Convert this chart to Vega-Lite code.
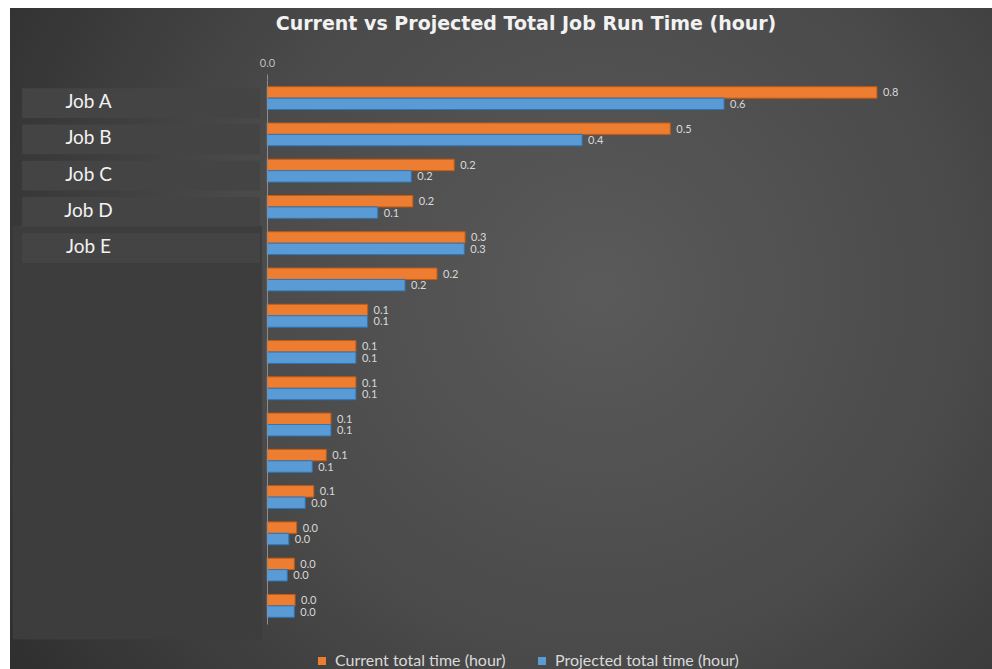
{
  "$schema": "https://vega.github.io/schema/vega-lite/v6.json",
  "width": 982,
  "height": 661,
  "autosize": {"type": "none"},
  "padding": {"left": 10, "top": 8, "right": 0, "bottom": 0},
  "background": "white",
  "config": {
    "view": {
      "stroke": null,
      "fill": {
        "gradient": "radial",
        "x1": 0.6, "y1": 0.45, "r1": 0,
        "x2": 0.6, "y2": 0.45, "r2": 0.75,
        "stops": [
          {"offset": 0, "color": "#5a5a5a"},
          {"offset": 0.5, "color": "#4a4a4a"},
          {"offset": 1, "color": "#2c2c2c"}
        ]
      }
    },
    "font": "Lato"
  },
  "title": {
    "text": "Current vs Projected Total Job Run Time (hour)",
    "font": "DejaVu Sans",
    "fontSize": 19,
    "fontWeight": "bold",
    "color": "#f2f2f2",
    "anchor": "middle",
    "dx": 25,
    "offset": -26
  },
  "data": {
    "values": [
      {"job": "Job A", "series": "Current total time (hour)", "value": 0.782},
      {"job": "Job A", "series": "Projected total time (hour)", "value": 0.586},
      {"job": "Job B", "series": "Current total time (hour)", "value": 0.517},
      {"job": "Job B", "series": "Projected total time (hour)", "value": 0.404},
      {"job": "Job C", "series": "Current total time (hour)", "value": 0.240},
      {"job": "Job C", "series": "Projected total time (hour)", "value": 0.185},
      {"job": "Job D", "series": "Current total time (hour)", "value": 0.187},
      {"job": "Job D", "series": "Projected total time (hour)", "value": 0.142},
      {"job": "Job E", "series": "Current total time (hour)", "value": 0.254},
      {"job": "Job E", "series": "Projected total time (hour)", "value": 0.253},
      {"job": "Job F", "series": "Current total time (hour)", "value": 0.218},
      {"job": "Job F", "series": "Projected total time (hour)", "value": 0.177},
      {"job": "Job G", "series": "Current total time (hour)", "value": 0.129},
      {"job": "Job G", "series": "Projected total time (hour)", "value": 0.129},
      {"job": "Job H", "series": "Current total time (hour)", "value": 0.114},
      {"job": "Job H", "series": "Projected total time (hour)", "value": 0.114},
      {"job": "Job I", "series": "Current total time (hour)", "value": 0.114},
      {"job": "Job I", "series": "Projected total time (hour)", "value": 0.114},
      {"job": "Job J", "series": "Current total time (hour)", "value": 0.082},
      {"job": "Job J", "series": "Projected total time (hour)", "value": 0.082},
      {"job": "Job K", "series": "Current total time (hour)", "value": 0.076},
      {"job": "Job K", "series": "Projected total time (hour)", "value": 0.058},
      {"job": "Job L", "series": "Current total time (hour)", "value": 0.060},
      {"job": "Job L", "series": "Projected total time (hour)", "value": 0.049},
      {"job": "Job M", "series": "Current total time (hour)", "value": 0.038},
      {"job": "Job M", "series": "Projected total time (hour)", "value": 0.028},
      {"job": "Job N", "series": "Current total time (hour)", "value": 0.035},
      {"job": "Job N", "series": "Projected total time (hour)", "value": 0.026},
      {"job": "Job O", "series": "Current total time (hour)", "value": 0.036},
      {"job": "Job O", "series": "Projected total time (hour)", "value": 0.035}
    ]
  },
  "encoding": {
    "y": {
      "field": "job",
      "type": "nominal",
      "sort": ["Job A", "Job B", "Job C", "Job D", "Job E", "Job F", "Job G", "Job H", "Job I", "Job J", "Job K", "Job L", "Job M", "Job N", "Job O"],
      "scale": {"range": [72, 616], "paddingInner": 0.37, "paddingOuter": 0.185},
      "axis": {
        "title": null,
        "orient": "left",
        "offset": -257,
        "zindex": 1,
        "ticks": false,
        "domain": true,
        "domainColor": "#8c8c8c",
        "labelAlign": "center",
        "labelPadding": 179,
        "labelOffset": 4,
        "labelFont": "Lato",
        "labelFontSize": 19,
        "labelColor": "#f2f2f2",
        "labelExpr": "indexof(['Job A','Job B','Job C','Job D','Job E'], datum.value) >= 0 ? datum.value : ''"
      }
    }
  },
  "layer": [
    {
      "transform": [
        {"filter": {"field": "series", "equal": "Current total time (hour)"}},
        {"filter": {"field": "job", "oneOf": ["Job E", "Job F", "Job G", "Job H", "Job I", "Job J", "Job K", "Job L", "Job M", "Job N", "Job O"]}}
      ],
      "mark": {"type": "bar", "fill": "#3d3d3d", "height": {"band": 2.25}, "yOffset": 8},
      "encoding": {
        "x": {"datum": -0.326, "type": "quantitative", "scale": {"domain": [-0.3295, 0.9295], "nice": false, "zero": false},
          "axis": {"orient": "top", "values": [0], "format": ".1f", "offset": -72, "domain": false, "grid": false, "ticks": true, "tickSize": 6, "tickColor": "#8c8c8c", "labelPadding": 6, "labelColor": "#bfbfbf", "labelFontSize": 11, "labelFont": "Lato", "title": null}},
        "x2": {"datum": -0.0064}
      }
    },
    {
      "transform": [
        {"filter": {"field": "series", "equal": "Current total time (hour)"}},
        {"filter": {"field": "job", "oneOf": ["Job A", "Job B", "Job C", "Job D", "Job E"]}}
      ],
      "mark": {"type": "bar", "fill": "#444444", "height": {"band": 1.3}, "yOffset": 5},
      "encoding": {
        "x": {"datum": -0.314, "type": "quantitative"},
        "x2": {"datum": -0.009}
      }
    },
    {
      "mark": {"type": "bar", "strokeWidth": 1},
      "encoding": {
        "x": {"field": "value", "type": "quantitative"},
        "yOffset": {"field": "series", "type": "nominal"},
        "color": {
          "field": "series",
          "type": "nominal",
          "scale": {"domain": ["Current total time (hour)", "Projected total time (hour)"], "range": ["#ED7D31", "#5B9BD5"]},
          "legend": {
            "orient": "none",
            "legendX": 304,
            "legendY": 645,
            "direction": "horizontal",
            "title": null,
            "symbolType": "square",
            "symbolSize": 64,
            "symbolStrokeWidth": 0,
            "labelFont": "Lato",
            "labelFontSize": 16,
            "labelLimit": 400,
            "labelColor": "#d9d9d9",
            "labelOffset": 5,
            "columnPadding": 28
          }
        },
        "stroke": {
          "field": "series",
          "type": "nominal",
          "scale": {"domain": ["Current total time (hour)", "Projected total time (hour)"], "range": ["#c55a11", "#2e75b6"]},
          "legend": null
        }
      }
    },
    {
      "mark": {"type": "text", "align": "left", "baseline": "middle", "dx": 6, "dy": 1, "fontSize": 11, "font": "Lato", "color": "#d9d9d9"},
      "encoding": {
        "x": {"field": "value", "type": "quantitative"},
        "yOffset": {"field": "series", "type": "nominal"},
        "text": {"field": "value", "type": "quantitative", "format": ".1f"}
      }
    }
  ]
}
